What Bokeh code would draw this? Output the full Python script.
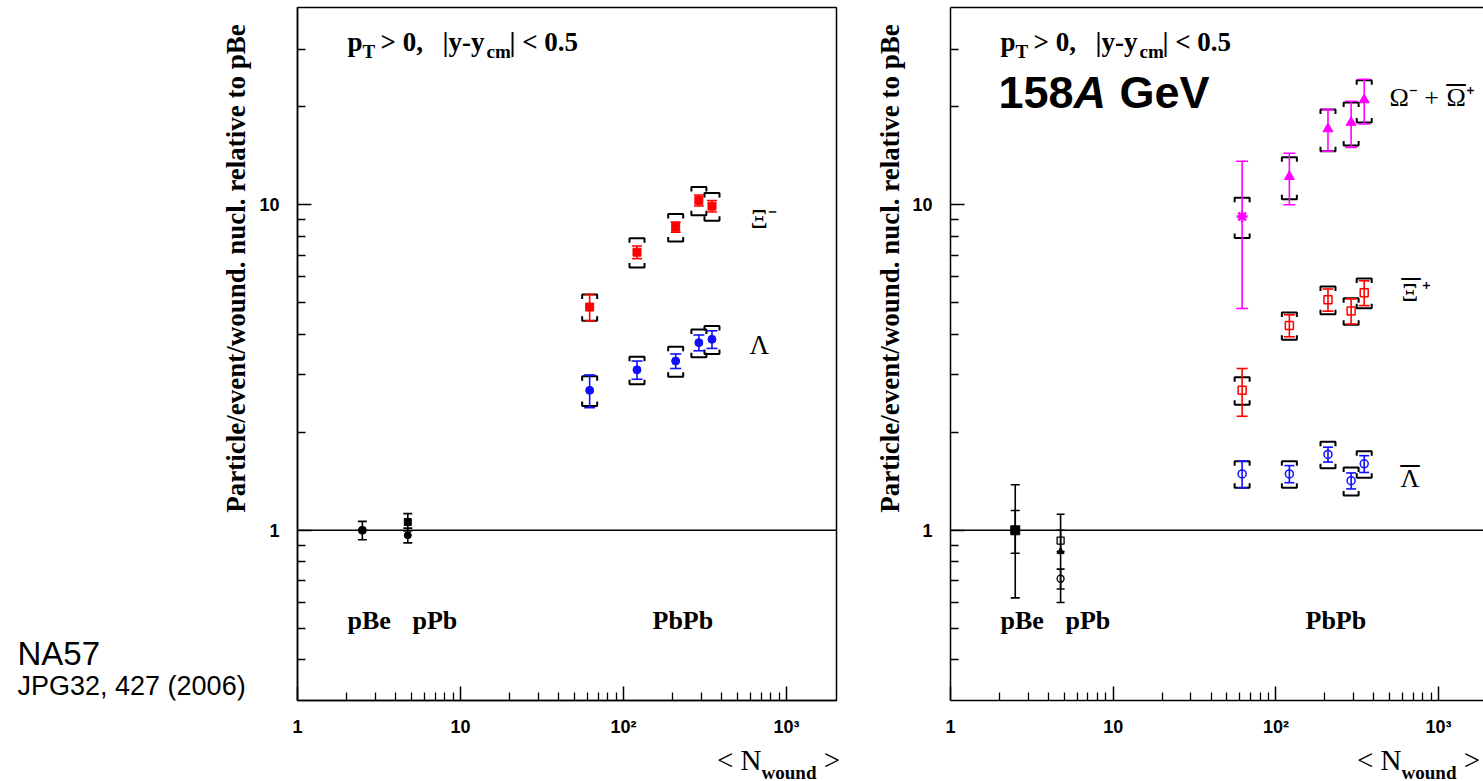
import math
from bokeh.plotting import figure
from bokeh.models import Range1d, FixedTicker, Span, Label, LogAxis, Div
from bokeh.layouts import row, column
from bokeh.embed import file_html
from bokeh.resources import INLINE

# ---------------- data ----------------
N_WOUND_PBPB = [62, 121, 209, 290, 349]
N_WOUND_PBE = 2.5
N_WOUND_PPB = 4.75

# left panel: Xi- and Lambda in PbPb
xi_minus = [4.85, 7.15, 8.54, 10.31, 9.90]
xi_minus_stat = [0.45, 0.32, 0.30, 0.40, 0.40]
xi_minus_sys = [0.45, 0.74, 0.83, 1.03, 0.97]
lambda_ = [2.69, 3.11, 3.31, 3.77, 3.86]
lambda_stat = [0.31, 0.20, 0.17, 0.21, 0.24]
lambda_sys = [0.28, 0.30, 0.35, 0.37, 0.38]
# left panel: pBe (reference = 1) and pPb
pbe_left = [1.0]
pbe_left_err = [0.065]
ppb_left = [1.06, 0.965]          # Xi-, Lambda
ppb_left_err = [0.065, 0.05]

# right panel: Omega, anti-Xi, anti-Lambda in PbPb
omega = [9.2, 12.2, 17.1, 17.9, 21.0]
omega_stat = [4.4, 2.2, 2.5, 2.9, 3.3]
omega_sys = [1.3, 1.8, 2.5, 2.7, 3.1]
xi_plus_bar = [2.69, 4.26, 5.11, 4.72, 5.37]
xi_plus_bar_stat = [0.45, 0.33, 0.40, 0.42, 0.47]
xi_plus_bar_sys = [0.26, 0.41, 0.50, 0.44, 0.56]
lambda_bar = [1.49, 1.49, 1.71, 1.42, 1.60]
lambda_bar_stat = [0.14, 0.09, 0.09, 0.08, 0.095]
lambda_bar_sys = [0.14, 0.14, 0.16, 0.14, 0.15]
# right panel: pBe (reference = 1) and pPb
pbe_right = [1.0, 1.0]            # Omega, anti-Xi
pbe_right_err = [0.38, 0.15]
ppb_right = [0.86, 0.93, 0.71]    # Omega, anti-Xi, anti-Lambda
ppb_right_err = [0.26, 0.07, 0.05]

# axes
X_TICKS = [1, 10, 100, 1000]
X_TICK_LABELS = ["1", "10", "10²", "10³"]
X_MINOR = [m * d for d in (1, 10, 100) for m in range(2, 10)]
Y_TICKS = [1, 10]
Y_TICK_LABELS = ["1", "10"]
Y_MINOR = [round(m * d, 3) for d in (0.1, 1, 10) for m in range(2, 10) if 0.31 < m * d < 39]
Y_RANGE = (0.3, 40.35)
Y_TITLE = "Particle/event/wound. nucl. relative to pBe"
X_TITLE_MAIN = "N"
X_TITLE_SUB = "wound"

# ---------------- layout ----------------
ROW_H, TOP, FH = 748, 7, 693
BOT = ROW_H - TOP - FH
STRIP_H = 32
LY0, LY1 = math.log10(Y_RANGE[0]), math.log10(Y_RANGE[1])
DEC_Y = FH / (LY1 - LY0)
Y1_PX = TOP + FH * LY1 / (LY1 - LY0)
BASE_SHIFT = 0.3  # rendered baseline sits ~0.3 em below the anchor

SERIF = "Liberation Serif"
SANS = "Liberation Sans"
RED, BLUE, MAGENTA = "#ff0000", "#1010ff", "#ff00ff"


def place(p, to_x, to_y, px, py, text, font=SERIF, size=26, style="normal",
          align="left", angle=0.0):
    if angle == 0.0:
        py -= BASE_SHIFT * size
    else:
        px -= BASE_SHIFT * size
    p.add_layout(Label(x=to_x(px), y=to_y(py), text=text, text_font=font,
                       text_font_size=f"{size}px", text_font_style=style,
                       text_color="black", text_baseline="alphabetic",
                       text_align=align, angle=angle))


def spacer(ox, w):
    # same vertical structure as the panels; data units = window pixels
    s = figure(frame_width=w, frame_height=FH,
               x_range=Range1d(0, w), y_range=Range1d(BOT, ROW_H - TOP),
               min_border_left=0, min_border_right=0,
               min_border_top=TOP, min_border_bottom=BOT,
               toolbar_location=None, output_backend="svg",
               x_axis_location=None, y_axis_location=None)
    s.outline_line_color = None
    s.grid.visible = False
    s.background_fill_color = "white"
    s.border_fill_color = "white"

    def lab(px, py, text, **kw):
        place(s, lambda v: v - ox, lambda v: ROW_H - v, px, py, text, **kw)
    s._lab = lab
    return s


def make_panel(origin, left_border, frame_w, right_border, dec_x, outline=True):
    xmax = 10 ** (frame_w / dec_x)
    p = figure(x_axis_type="log", y_axis_type="log",
               x_range=Range1d(1, xmax), y_range=Range1d(*Y_RANGE),
               frame_width=frame_w, frame_height=FH,
               min_border_left=left_border, min_border_right=right_border,
               min_border_top=TOP, min_border_bottom=BOT,
               toolbar_location=None, output_backend="svg")
    p.grid.visible = False
    p.background_fill_color = "white"
    p.border_fill_color = "white"
    xax, yax = p.below[0], p.left[0]
    for ax in (xax, yax):
        ax.axis_line_color = "black"
        ax.axis_line_width = 1.5
        ax.major_tick_in = 14
        ax.major_tick_out = 0
        ax.minor_tick_in = 8
        ax.minor_tick_out = 0
        ax.major_tick_line_width = 1.5
        ax.minor_tick_line_width = 1.3
        ax.major_tick_line_color = "black"
        ax.minor_tick_line_color = "black"
        ax.major_label_text_font = SANS
        ax.major_label_text_font_style = "bold"
        ax.major_label_text_font_size = "18px"
        ax.major_label_text_color = "black"
    xax.ticker = FixedTicker(ticks=X_TICKS, minor_ticks=X_MINOR)
    xax.major_label_overrides = dict(zip(X_TICKS, X_TICK_LABELS))
    xax.major_label_standoff = 16
    yax.ticker = FixedTicker(ticks=Y_TICKS, minor_ticks=Y_MINOR)
    yax.major_label_overrides = dict(zip(Y_TICKS, Y_TICK_LABELS))
    yax.major_label_standoff = 18
    if outline:
        p.outline_line_color = "black"
        p.outline_line_width = 1.5
    else:
        # frame continues past the window's right edge: only a top line
        p.outline_line_color = None
        top = LogAxis(ticker=FixedTicker(ticks=[], minor_ticks=[]),
                      major_tick_line_color=None, minor_tick_line_color=None,
                      major_label_standoff=0, major_tick_out=0, minor_tick_out=0,
                      major_tick_in=0, minor_tick_in=0,
                      axis_line_color="black", axis_line_width=1.5)
        p.add_layout(top, "above")

    p.add_layout(Span(location=1, dimension="width", line_color="black", line_width=1.5))

    fl = origin + left_border  # absolute frame left in the window

    def lab(px, py, text, **kw):
        place(p, lambda v: 10 ** ((v - fl) / dec_x), lambda v: 10 ** ((Y1_PX - v) / DEC_Y),
              px, py, text, **kw)

    p._lab, p._dec_x = lab, dec_x

    # p_T > 0, |y - y_cm| < 0.5
    lab(fl + 50, 50, "p", size=27, style="bold")
    lab(fl + 65, 57, "T", size=19, style="bold")
    lab(fl + 83, 50, "> 0,", size=27, style="bold")
    lab(fl + 145, 50, "|y-y", size=27, style="bold")
    lab(fl + 189, 57, "cm", size=19, style="bold")
    lab(fl + 212, 50, "| < 0.5", size=27, style="bold")
    # collision systems
    lab(fl + 50, 628, "pBe", size=26, style="bold")
    lab(fl + 115, 628, "pPb", size=26, style="bold")
    lab(fl + 355, 628, "PbPb", size=26, style="bold")
    return p


def brackets(p, xs, ys, sys):
    fx = 10 ** (7.5 / p._dec_x)
    fy = 10 ** (4.5 / DEC_Y)
    mx, my = [], []
    for x, y, s in zip(xs, ys, sys):
        hi, lo = y + s, y - s
        mx.append([x / fx, x / fx, x * fx, x * fx])
        my.append([hi / fy, hi, hi, hi / fy])
        mx.append([x / fx, x / fx, x * fx, x * fx])
        my.append([lo * fy, lo, lo, lo * fy])
    p.multi_line(xs=mx, ys=my, line_color="black", line_width=2)


def stat_bars(p, xs, ys, errs, color, cap=11):
    lo = [y - e for y, e in zip(ys, errs)]
    hi = [y + e for y, e in zip(ys, errs)]
    p.segment(x0=xs, y0=lo, x1=xs, y1=hi, line_color=color, line_width=1.6)
    p.scatter(x=list(xs) + list(xs), y=lo + hi, marker="dash", size=cap,
              line_color=color, line_width=1.6)


def overline(p, px, bar_y, size=38):
    # an underscore drawn above the letter; its bar sits ~0.1 em below its baseline
    p._lab(px, bar_y - 0.1 * size, "_", size=size)


# ---------------- left text column ----------------
pA = spacer(0, 256)
pA._lab(17, 663, "NA57", font=SANS, size=33)
pA._lab(17, 694, "JPG32, 427 (2006)", font=SANS, size=27)
pA._lab(244, 268, Y_TITLE, size=27, style="bold", angle=math.pi / 2, align="center")

# ---------------- left panel ----------------
p1 = make_panel(256, 40, 539, 2, 163.0)
brackets(p1, N_WOUND_PBPB, xi_minus, xi_minus_sys)
brackets(p1, N_WOUND_PBPB, lambda_, lambda_sys)
stat_bars(p1, N_WOUND_PBPB, xi_minus, xi_minus_stat, RED, cap=10)
stat_bars(p1, N_WOUND_PBPB, lambda_, lambda_stat, BLUE, cap=11)
p1.scatter(N_WOUND_PBPB, xi_minus, marker="square", size=8, color=RED)
p1.scatter(N_WOUND_PBPB, lambda_, marker="circle", size=8, color=BLUE)

stat_bars(p1, [N_WOUND_PBE], pbe_left, pbe_left_err, "black", cap=9)
p1.scatter([N_WOUND_PBE], pbe_left, marker="circle", size=8, color="black")
stat_bars(p1, [N_WOUND_PPB] * 2, ppb_left, ppb_left_err, "black", cap=9)
p1.scatter([N_WOUND_PPB], ppb_left[:1], marker="square", size=7, color="black")
p1.scatter([N_WOUND_PPB], ppb_left[1:], marker="circle", size=7, color="black")

p1._lab(749, 227, "Ξ⁻", size=27)
p1._lab(748, 353, "Λ", size=27)

# ---------------- gap column with the right panel's y title ----------------
pB = spacer(837, 68)
pB._lab(897, 268, Y_TITLE, size=27, style="bold", angle=math.pi / 2, align="center")

# ---------------- right panel ----------------
p2 = make_panel(905, 44, 534, 0, 162.7, outline=False)
brackets(p2, N_WOUND_PBPB, omega, omega_sys)
brackets(p2, N_WOUND_PBPB, xi_plus_bar, xi_plus_bar_sys)
brackets(p2, N_WOUND_PBPB, lambda_bar, lambda_bar_sys)
stat_bars(p2, N_WOUND_PBPB, omega, omega_stat, MAGENTA, cap=12)
stat_bars(p2, N_WOUND_PBPB, xi_plus_bar, xi_plus_bar_stat, RED, cap=11)
stat_bars(p2, N_WOUND_PBPB, lambda_bar, lambda_bar_stat, BLUE, cap=10)
p2.scatter(N_WOUND_PBPB[:1], omega[:1], marker="asterisk", size=11, line_color=MAGENTA, line_width=2.5)
p2.scatter(N_WOUND_PBPB[1:], omega[1:], marker="triangle", size=10, color=MAGENTA)
p2.scatter(N_WOUND_PBPB, xi_plus_bar, marker="square", size=8, line_color=RED,
           fill_alpha=0, line_width=1.5)
p2.scatter(N_WOUND_PBPB, lambda_bar, marker="circle", size=8, line_color=BLUE,
           fill_alpha=0, line_width=1.5)

stat_bars(p2, [N_WOUND_PBE] * 2, pbe_right, pbe_right_err, "black", cap=9)
p2.scatter([N_WOUND_PBE], pbe_right[:1], marker="square", size=9, color="black")
stat_bars(p2, [N_WOUND_PPB] * 3, ppb_right, ppb_right_err, "black", cap=8)
p2.scatter([N_WOUND_PPB], ppb_right[:1], marker="triangle", size=7, color="black")
p2.scatter([N_WOUND_PPB], ppb_right[1:2], marker="square", size=7, line_color="black",
           fill_alpha=0, line_width=1.3)
p2.scatter([N_WOUND_PPB], ppb_right[2:], marker="circle", size=7, line_color="black",
           fill_alpha=0, line_width=1.3)

p2._lab(1388, 105, "Ω⁻ +", size=26)
p2._lab(1445, 105, "Ω", size=26)
p2._lab(1464, 105, "⁺", size=26)
overline(p2, 1445, 83)
p2._lab(1400, 300, "Ξ", size=26)
p2._lab(1420, 300, "⁺", size=26)
overline(p2, 1400, 277)
p2._lab(1399, 486, "Λ", size=26)
overline(p2, 1399, 464)
# energy
p2._lab(997, 105, "158", font=SANS, size=45, style="bold")
p2._lab(1072, 105, "A", font=SANS, size=45, style="bold italic")
p2._lab(1118, 105, "GeV", font=SANS, size=45, style="bold")

# ---------------- bottom strip with the x titles (HTML text) ----------------
parts = []
for x0 in (717, 1357):
    parts.append(
        f'<div style="position:absolute; left:{x0}px; top:-2px; white-space:nowrap; '
        f"font-family:'{SERIF}'; font-size:29px; line-height:29px; color:black;\">"
        f'&lt; {X_TITLE_MAIN}<span style="position:relative; top:9px; font-size:19px; '
        f'font-weight:bold;">{X_TITLE_SUB}</span> &gt;</div>')
strip = Div(text=f'<div style="position:relative; width:1483px; height:{STRIP_H}px;">'
                 + "".join(parts) + "</div>",
            width=1483, height=STRIP_H, margin=(0, 0, 0, 0))

layout = column(row(pA, p1, pB, p2), strip)
open("out.html", "w").write(file_html(layout, INLINE))
